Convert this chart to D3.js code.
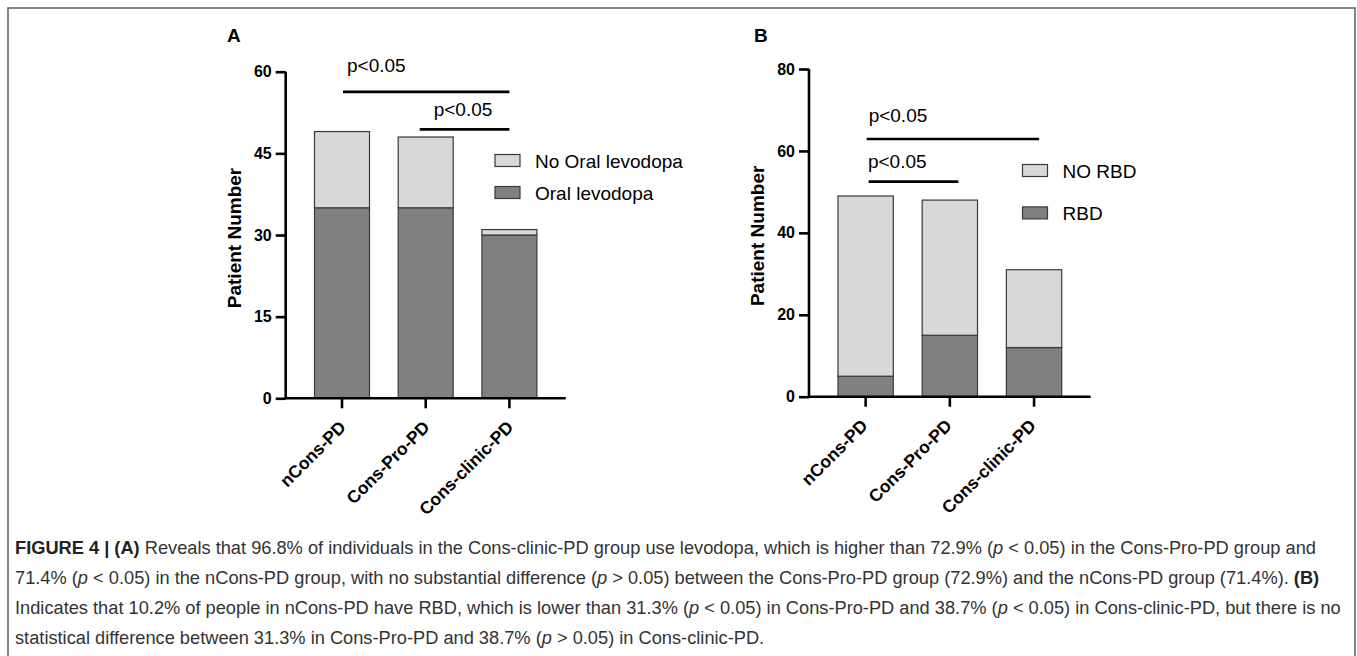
<!DOCTYPE html>
<html>
<head>
<meta charset="utf-8">
<script src="https://cdn.jsdelivr.net/npm/d3@7"></script>
<style>
  html, body { margin: 0; padding: 0; background: #fff; }
  svg { display: block; font-family: "Liberation Sans", Arial, Helvetica, sans-serif; }
</style>
</head>
<body>
<svg id="chart" width="1357" height="656"></svg>
<script>
// ---------------- data ----------------
const categories = ["nCons-PD", "Cons-Pro-PD", "Cons-clinic-PD"];

const oralLevodopa   = [35, 35, 30];
const noOralLevodopa = [14, 13, 1];
const seriesNamesA   = ["Oral levodopa", "No Oral levodopa"];
const ticksA         = [0, 15, 30, 45, 60];

const rbd      = [5, 15, 12];
const noRbd    = [44, 33, 19];
const seriesNamesB = ["RBD", "NO RBD"];
const ticksB       = [0, 20, 40, 60, 80];

const yLabel = "Patient Number";
const sigLabel = "p<0.05";

// comparisons: [from category index, to category index, bracket level in data units]
const comparisonsA = [[0, 2, 56.3], [1, 2, 49.4]];
const comparisonsB = [[0, 2, 62.9], [0, 1, 52.5]];

const captionLines = [
  [["b", "FIGURE 4 | (A)"], ["n", " Reveals that 96.8% of individuals in the Cons-clinic-PD group use levodopa, which is higher than 72.9% ("], ["i", "p"], ["n", " < 0.05) in the Cons-Pro-PD group and"]],
  [["n", "71.4% ("], ["i", "p"], ["n", " < 0.05) in the nCons-PD group, with no substantial difference ("], ["i", "p"], ["n", " > 0.05) between the Cons-Pro-PD group (72.9%) and the nCons-PD group (71.4%). "], ["b", "(B)"]],
  [["n", "Indicates that 10.2% of people in nCons-PD have RBD, which is lower than 31.3% ("], ["i", "p"], ["n", " < 0.05) in Cons-Pro-PD and 38.7% ("], ["i", "p"], ["n", " < 0.05) in Cons-clinic-PD, but there is no"]],
  [["n", "statistical difference between 31.3% in Cons-Pro-PD and 38.7% ("], ["i", "p"], ["n", " > 0.05) in Cons-clinic-PD."]]
];

// ---------------- styles ----------------
const LIGHT = "#d8d8d8";
const DARK = "#808080";
const OUTLINE = "#3a3a3a";

const svg = d3.select("#chart");

// outer figure border
svg.append("rect")
  .attr("x", 8).attr("y", 8).attr("width", 1347).attr("height", 700)
  .attr("fill", "none").attr("stroke", "#666").attr("stroke-width", 1.6);

function drawPanel(cfg) {
  const g = svg.append("g");
  const x = d3.scaleBand().domain(categories)
    .range([cfg.x0, cfg.x1]).paddingInner(0.343).paddingOuter(0.344);
  const y = d3.scaleLinear().domain([0, cfg.max]).range([cfg.yBottom, cfg.yTop]);

  // panel letter
  g.append("text").attr("x", cfg.letterX).attr("y", 42)
    .attr("font-size", 19).attr("font-weight", "bold").text(cfg.letter);

  // stacked bars
  const rows = categories.map((c, i) => ({ cat: c, a: cfg.lower[i], b: cfg.upper[i] }));
  const stack = d3.stack().keys(["a", "b"])(rows);
  const fills = [DARK, LIGHT];
  stack.forEach((layer, li) => {
    g.append("g").selectAll("rect").data(layer).join("rect")
      .attr("x", d => x(d.data.cat))
      .attr("width", x.bandwidth())
      .attr("y", d => y(d[1]))
      .attr("height", d => y(d[0]) - y(d[1]))
      .attr("fill", fills[li])
      .attr("stroke", OUTLINE).attr("stroke-width", 1.2);
  });

  // y axis
  const yAxis = d3.axisLeft(y).tickValues(cfg.ticks).tickSize(10).tickPadding(4);
  const ya = g.append("g").attr("transform", `translate(${cfg.x0},0)`).call(yAxis);
  ya.select(".domain").attr("stroke", "#000").attr("stroke-width", 2.6)
    .attr("d", `M0,${cfg.yTop}V${cfg.yBottom}`);
  ya.selectAll(".tick line").attr("stroke", "#000").attr("stroke-width", 2.6);
  ya.selectAll(".tick text").attr("font-size", 16).attr("font-weight", "bold")
    .attr("fill", "#000").attr("font-family", "Liberation Sans, Arial, sans-serif");

  // x axis
  const xAxis = d3.axisBottom(x).tickSize(10).tickFormat("");
  const xa = g.append("g").attr("transform", `translate(0,${cfg.yBottom})`).call(xAxis);
  xa.select(".domain").attr("stroke", "#000").attr("stroke-width", 2.6)
    .attr("d", `M${cfg.x0 - 1.3},0H${cfg.x1}`);
  xa.selectAll(".tick line").attr("stroke", "#000").attr("stroke-width", 2.6);

  // rotated category labels
  g.append("g").selectAll("text").data(categories).join("text")
    .attr("transform", d => `translate(${x(d) + x.bandwidth() / 2 + cfg.labDx},${cfg.yBottom + 30}) rotate(-45)`)
    .attr("text-anchor", "end")
    .attr("font-size", 17.5).attr("font-weight", "bold").text(d => d);

  // y label
  g.append("text")
    .attr("transform", `translate(${cfg.yLabX},${(cfg.yTop + cfg.yBottom) / 2 + 3}) rotate(-90)`)
    .attr("text-anchor", "middle").attr("font-size", 19).attr("font-weight", "bold")
    .text(yLabel);

  // significance brackets
  cfg.comps.forEach((c, i) => {
    const o = cfg.compOffsets[i];
    const xs = x(categories[c[0]]) + x.bandwidth() / 2 + o[0];
    const xe = x(categories[c[1]]) + x.bandwidth() / 2 + o[1];
    const yy = y(c[2]);
    g.append("line").attr("x1", xs).attr("x2", xe).attr("y1", yy).attr("y2", yy)
      .attr("stroke", "#000").attr("stroke-width", 2.6);
    g.append("text").attr("x", xs + o[2]).attr("y", yy - o[3])
      .attr("font-size", 19).text(sigLabel);
  });

  // legend (upper series first)
  const legend = [[cfg.names[1], LIGHT], [cfg.names[0], DARK]];
  legend.forEach((d, i) => {
    const ly = cfg.legY + i * cfg.legGap;
    g.append("rect").attr("x", cfg.legX).attr("y", ly - 6).attr("width", 25).attr("height", 12)
      .attr("fill", d[1]).attr("stroke", OUTLINE).attr("stroke-width", 1.2);
    g.append("text").attr("x", cfg.legX + 40).attr("y", ly + 7)
      .attr("font-size", 19).text(d[0]);
  });
}

drawPanel({
  letter: "A", letterX: 227,
  x0: 285.7, x1: 565.7, yTop: 71.7, yBottom: 398.3, max: 60, ticks: ticksA,
  lower: oralLevodopa, upper: noOralLevodopa, names: seriesNamesA,
  labDx: 5, yLabX: 241,
  comps: comparisonsA, compOffsets: [[1, 0, 4, 20], [-6, 0, 14, 13]],
  legX: 495, legY: 160.5, legGap: 32
});

drawPanel({
  letter: "B", letterX: 754,
  x0: 809, x1: 1090.7, yTop: 69, yBottom: 396.7, max: 80, ticks: ticksB,
  lower: rbd, upper: noRbd, names: seriesNamesB,
  labDx: 3, yLabX: 764,
  comps: comparisonsB, compOffsets: [[1, 5, 2, 17.5], [3, 8.5, -0.7, 13.5]],
  legX: 1022.5, legY: 170.5, legGap: 42.4
});

// ---------------- caption ----------------
const cap = svg.append("g").attr("fill", "#333");
const capTexts = captionLines.map((line, i) => {
  const t = cap.append("text").attr("x", 15).attr("y", 554 + i * 30)
    .attr("font-size", 16).attr("font-family", "Liberation Sans, Arial, sans-serif");
  line.forEach(seg => {
    const s = t.append("tspan").text(seg[1]);
    if (seg[0] === "b") s.attr("font-weight", "bold").attr("fill", "#222");
    if (seg[0] === "i") s.attr("font-style", "italic");
  });
  return t;
});
// fit font size so first line spans the measured width
const w0 = capTexts[0].node().getComputedTextLength();
const fs = 16 * 1302 / w0;
capTexts.forEach(t => t.attr("font-size", fs));
</script>
</body>
</html>
